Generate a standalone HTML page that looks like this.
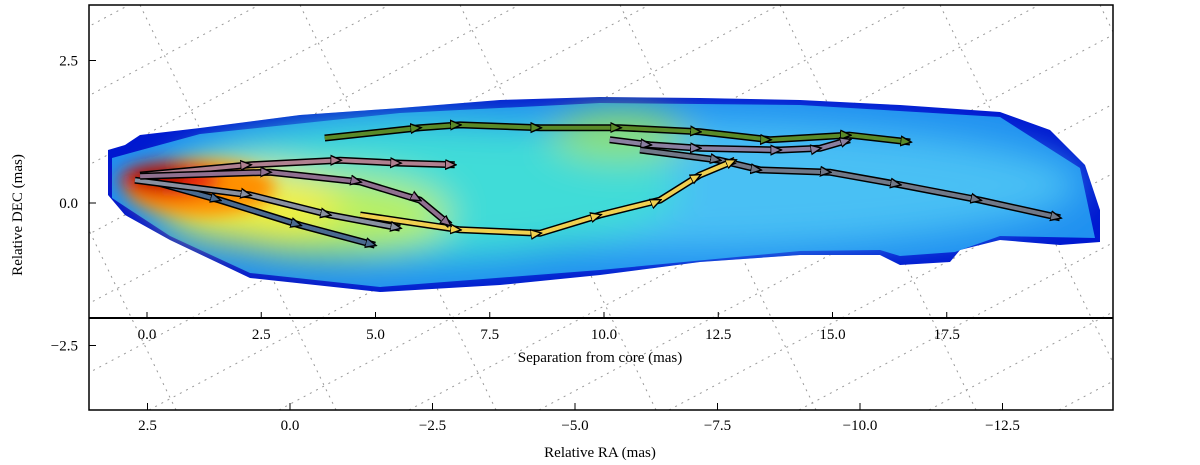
<!DOCTYPE html>
<html><head><meta charset="utf-8"><style>
html,body{margin:0;padding:0;background:#fff;overflow:hidden;width:1200px;height:465px;}
svg{display:block;}
svg text{font-family:"Liberation Serif",serif;font-size:15px;fill:#000;}
</style></head><body>
<svg id="chart" width="1200" height="465" viewBox="0 0 1200 465" xmlns="http://www.w3.org/2000/svg">
<defs>
<clipPath id="axclip"><rect x="89" y="5" width="1024" height="405"/></clipPath>
<clipPath id="jetclip"><path d="M108,150 L125,145 L140,135 L200,128 L300,115 L400,108 L500,100 L600,97 L700,98 L800,100 L900,105 L1000,112 L1050,130 L1085,165 L1100,210 L1100,242 L1060,245 L1000,240 L960,250 L950,262 L900,265 L880,255 L800,255 L700,262 L600,275 L500,285 L380,292 L250,278 L170,240 L125,215 L108,195 Z"/></clipPath>
<filter id="blur" x="-50%" y="-50%" width="200%" height="200%"><feGaussianBlur stdDeviation="18"/></filter>
<filter id="blur2" x="-50%" y="-50%" width="200%" height="200%"><feGaussianBlur stdDeviation="8"/></filter>
<marker id="ah" viewBox="0 0 10 10" refX="8" refY="5" markerWidth="3" markerHeight="3" orient="auto" markerUnits="strokeWidth"><path d="M0,1 L9,5 L0,9 Z" fill="context-stroke" stroke="#000" stroke-width="1.2"/></marker>
</defs>
<g id="grid" clip-path="url(#axclip)" stroke="#999" stroke-dasharray="2,5" stroke-width="1" fill="none"></g>
<g id="jet" clip-path="url(#jetclip)">
<rect x="100" y="90" width="1010" height="210" fill="#0018d0"/>
<path d="M112,158 L200,134 L400,113 L600,103 L800,105 L1000,117 L1080,168 L1095,238 L1000,236 L955,252 L900,256 L880,250 L800,251 L600,270 L380,287 L250,273 L170,236 L112,198 Z" fill="#2090f0"/>
<g filter="url(#blur)">
<ellipse cx="640" cy="185" rx="440" ry="65" fill="#48c0f4"/>
<ellipse cx="420" cy="190" rx="260" ry="70" fill="#40dcd8"/>
<ellipse cx="620" cy="135" rx="70" ry="25" fill="#90e070"/>
<ellipse cx="330" cy="215" rx="120" ry="40" fill="#b8f060"/>
<ellipse cx="250" cy="205" rx="90" ry="38" fill="#f0f040"/>
</g>
<g filter="url(#blur2)">
<ellipse cx="200" cy="188" rx="75" ry="28" fill="#ff9000"/>
<ellipse cx="170" cy="180" rx="50" ry="18" fill="#e82010"/>
<ellipse cx="160" cy="177" rx="28" ry="10" fill="#a00000"/>
</g>
</g>
<g id="tracks"></g>
<rect x="89" y="5" width="1024" height="405" fill="none" stroke="#000" stroke-width="1.5"/>
<line x1="89" y1="318" x2="1113" y2="318" stroke="#000" stroke-width="2"/>
<g id="ticks"></g>
<text x="22" y="215" transform="rotate(-90 22 215)" text-anchor="middle">Relative DEC (mas)</text>
<text x="600" y="457" text-anchor="middle">Relative RA (mas)</text>
<text x="600" y="362" text-anchor="middle">Separation from core (mas)</text>
</svg>
<script>
const raTicks=[2.5,0,-2.5,-5,-7.5,-10,-12.5];
const raLabels=["2.5","0.0","\u22122.5","\u22125.0","\u22127.5","\u221210.0","\u221212.5"];
const decTicks=[2.5,0,-2.5];
const decLabels=["2.5","0.0","\u22122.5"];
const sepTicks=[0,2.5,5,7.5,10,12.5,15,17.5];
const sepLabels=["0.0","2.5","5.0","7.5","10.0","12.5","15.0","17.5"];
const trackColors=["#5a8a28","#8a7fa0","#707888","#f0d050","#b08090","#4a6a90","#8890a0","#907090"];
const trackRA=[
[-0.61,-2.28,-2.98,-4.39,-5.79,-7.19,-8.42,-9.82,-10.88],
[-5.61,-6.32,-7.19,-8.60,-9.30,-9.82],
[-6.14,-7.54,-8.25,-9.47,-10.70,-12.11,-13.51],
[-1.23,-2.98,-4.39,-5.44,-6.49,-7.19,-7.81],
[2.63,0.70,-0.88,-1.93,-2.89],
[2.63,1.23,-0.18,-1.49],
[2.72,0.70,-0.70,-1.93],
[2.63,0.35,-1.23,-2.28,-2.81]];
const trackDec=[
[1.14,1.32,1.37,1.32,1.32,1.25,1.11,1.19,1.07],
[1.11,1.02,0.96,0.93,0.96,1.11],
[0.93,0.75,0.58,0.54,0.32,0.05,-0.26],
[-0.21,-0.47,-0.53,-0.21,0.05,0.49,0.75],
[0.49,0.67,0.75,0.70,0.67],
[0.44,0.05,-0.39,-0.74],
[0.40,0.14,-0.21,-0.44],
[0.47,0.54,0.37,0.05,-0.39]];
const NS="http://www.w3.org/2000/svg";
const xRA=v=>290-57*v, yDec=v=>203-57*v, xSep=v=>147+45.7*v;
function mk(tag,attrs,parent){const e=document.createElementNS(NS,tag);for(const k in attrs)e.setAttribute(k,attrs[k]);parent.appendChild(e);return e;}
const grid=document.getElementById('grid');
for(let i=-8;i<14;i++){
  const l=mk('line',{x1:89+i*130-200,y1:410,x2:89+i*130+560,y2:5},grid);
  
  
  const m=mk('line',{x1:89+i*160+51,y1:5,x2:89+i*160+247,y2:410},grid);
  
  
}
const tg=document.getElementById('tracks');
trackRA.forEach((ra,i)=>{
  const pts=ra.map((r,j)=>xRA(r)+','+yDec(trackDec[i][j])).join(' ');
  const o=mk('polyline',{points:pts,fill:'none',stroke:'#000','stroke-width':7,'stroke-linejoin':'round'},tg);
  
  
  const p=mk('polyline',{points:pts,fill:'none',stroke:trackColors[i],'stroke-width':4,'stroke-linejoin':'round','marker-mid':'url(#ah)','marker-end':'url(#ah)'},tg);
  
  
});
const tk=document.getElementById('ticks');
raTicks.forEach((v,i)=>{
  const x=xRA(v);
  mk('line',{x1:x,y1:410,x2:x,y2:403,stroke:'#000'},tk);
  const t=mk('text',{x:x,y:430,'text-anchor':'middle'},tk);t.textContent=raLabels[i];
  
  
});
decTicks.forEach((v,i)=>{
  const y=yDec(v);
  mk('line',{x1:89,y1:y,x2:96,y2:y,stroke:'#000'},tk);
  const t=mk('text',{x:78,y:y+5,'text-anchor':'end'},tk);t.textContent=decLabels[i];
  
  
});
sepTicks.forEach((v,i)=>{
  const x=xSep(v);
  mk('line',{x1:x,y1:318,x2:x,y2:312,stroke:'#000'},tk);
  const t=mk('text',{x:x,y:339,'text-anchor':'middle'},tk);t.textContent=sepLabels[i];
  
  
});
</script>
</body></html>
